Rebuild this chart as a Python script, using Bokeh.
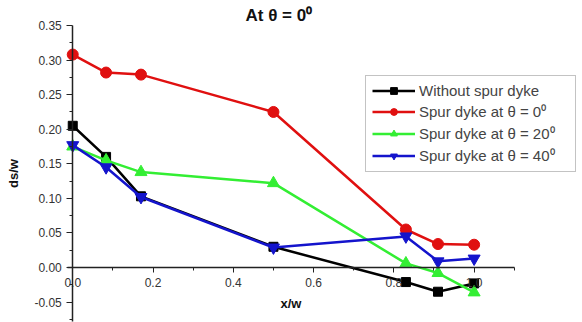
from bokeh.plotting import figure
from bokeh.models import Legend, LegendItem, Label, FixedTicker
from bokeh.embed import file_html
from bokeh.resources import INLINE

x = [0.0, 0.083, 0.17, 0.5, 0.83, 0.91, 1.0]
without = [0.205, 0.160, 0.103, 0.030, -0.021, -0.035, -0.023]
theta0 = [0.308, 0.282, 0.279, 0.225, 0.055, 0.034, 0.033]
theta20 = [0.175, 0.155, 0.138, 0.122, 0.006, -0.008, -0.036]
theta40 = [0.177, 0.145, 0.102, 0.029, 0.045, 0.009, 0.013]

labels = ["Without spur dyke", "Spur dyke at θ = 0⁰", "Spur dyke at θ = 20⁰", "Spur dyke at θ = 40⁰"]
colors = ["#000000", "#e01010", "#33ee33", "#1414cc"]
markers = ["square", "circle", "triangle", "inverted_triangle"]
sizes = [9, 11, 12, 12]
series = [without, theta0, theta20, theta40]

x_ticks = [0, 0.2, 0.4, 0.6, 0.8, 1.0]
x_minor = [0.1, 0.3, 0.5, 0.7, 0.9, 1.1]
y_ticks = [-0.05, 0, 0.05, 0.1, 0.15, 0.2, 0.25, 0.3, 0.35]
y_minor = [-0.075, -0.025, 0.025, 0.075, 0.125, 0.175, 0.225, 0.275, 0.325]

p = figure(width=582, height=322, output_backend="svg", toolbar_location=None,
           x_range=(-0.18, 1.27), y_range=(-0.0795, 0.3862),
           min_border_left=0, min_border_right=0, min_border_top=0, min_border_bottom=0)
p.outline_line_color = None
p.grid.visible = False
p.background_fill_color = "white"

items = []
for ys, lab, c, m, s in zip(series, labels, colors, markers, sizes):
    l = p.line(x, ys, line_color=c, line_width=2.5)
    r = p.scatter(x, ys, marker=m, size=s, fill_color=c, line_color=c)
    items.append(LegendItem(label=lab, renderers=[l, r]))

font = "Liberation Sans"
xa = p.xaxis[0]
xa.fixed_location = 0
xa.bounds = (-0.0125, 1.1)
xa.ticker = FixedTicker(ticks=x_ticks, minor_ticks=x_minor)
xa.major_label_overrides = {0: "0.0", 1: "1.0"}
xa.major_tick_in = 0
xa.major_tick_out = 5
xa.minor_tick_in = 0
xa.minor_tick_out = 3
xa.axis_label = "x/w"
xa.axis_label_standoff = 6

ya = p.yaxis[0]
ya.fixed_location = 0
ya.bounds = (-0.0775, 0.35)
ya.ticker = FixedTicker(ticks=y_ticks, minor_ticks=y_minor)
ya.major_label_overrides = {-0.05: "-0.05", 0: "0.00", 0.05: "0.05", 0.1: "0.10", 0.15: "0.15",
                            0.2: "0.20", 0.25: "0.25", 0.3: "0.30", 0.35: "0.35"}
ya.major_tick_in = 0
ya.major_tick_out = 6
ya.minor_tick_in = 0
ya.minor_tick_out = 3
ya.axis_label = "ds/w"
ya.axis_label_standoff = 10

for ax in (xa, ya):
    ax.axis_line_color = "#222222"
    ax.axis_line_width = 1.5
    ax.major_tick_line_color = "#222222"
    ax.minor_tick_line_color = "#222222"
    ax.major_label_text_font = font
    ax.major_label_text_font_size = "12px"
    ax.major_label_text_color = "#333333"
    ax.axis_label_text_font = font
    ax.axis_label_text_font_size = "13px"
    ax.axis_label_text_font_style = "bold"
    ax.axis_label_text_color = "#111111"

title = Label(x=245, y=307, x_units="screen", y_units="screen", text="At θ = 0⁰",
              text_font=font, text_font_size="17px", text_font_style="bold",
              text_baseline="middle", text_align="left", text_color="#111111")
p.add_layout(title)

legend = Legend(items=items, location=(365, 150))
legend.label_text_font = font
legend.label_text_font_size = "15px"
legend.glyph_width = 43
legend.glyph_height = 17
legend.label_height = 17
legend.label_width = 150
legend.label_standoff = 4
legend.spacing = 2
legend.padding = 6
legend.margin = 0
legend.border_line_color = "#888888"
legend.border_line_width = 1
p.add_layout(legend, "center")

open("out.html", "w").write(file_html(p, INLINE))
